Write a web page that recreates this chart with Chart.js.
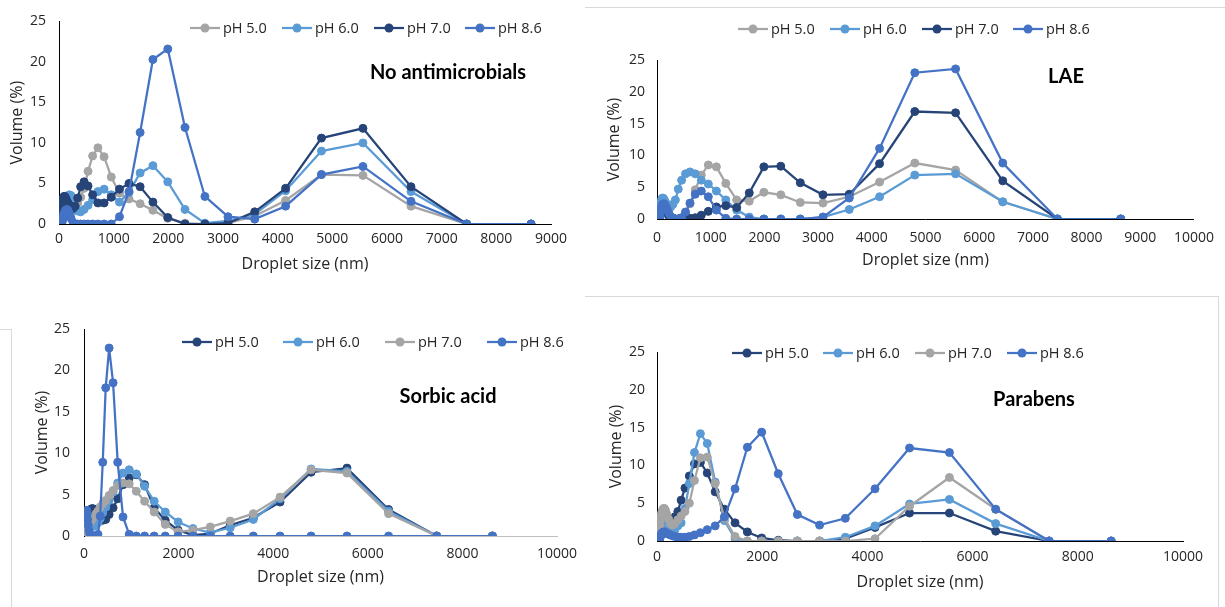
<!DOCTYPE html>
<html><head><meta charset="utf-8">
<script src="https://cdn.jsdelivr.net/npm/chart.js@4.4.1/dist/chart.umd.min.js"></script>
<style>
html,body{margin:0;padding:0;background:#fff;}
body{width:1225px;height:607px;position:relative;overflow:hidden;}
canvas{position:absolute;}
.fr{position:absolute;background:#d9d9d9;}
</style></head><body>
<div class="fr" style="left:585px;top:7px;width:640px;height:1px"></div>
<div class="fr" style="left:585px;top:296px;width:634px;height:1px"></div>
<div class="fr" style="left:1218px;top:296px;width:1px;height:311px"></div>
<div class="fr" style="left:0px;top:329px;width:12px;height:1px"></div>
<div class="fr" style="left:11px;top:329px;width:1px;height:278px"></div>
<canvas id="c1" width="590" height="295" style="left:0;top:0"></canvas>
<canvas id="c2" width="635" height="295" style="left:590px;top:0"></canvas>
<canvas id="c3" width="590" height="312" style="left:0;top:295px"></canvas>
<canvas id="c4" width="635" height="312" style="left:590px;top:295px"></canvas>
<script>
// Droplet size classes (nm)
const sizes = [43.82, 50.75, 58.77, 68.06, 78.82, 91.28, 105.7, 122.4, 141.8, 164.2, 190.1, 220.2, 255.0, 295.3, 342.0, 396.1, 458.7, 531.2, 615.1, 712.4, 825.0, 955.4, 1106, 1281, 1484, 1718, 1990, 2305, 2669, 3091, 3580, 4145, 4801, 5560, 6439, 7456, 8635];
const seriesLabels = ['pH 5.0', 'pH 6.0', 'pH 7.0', 'pH 8.6'];
const panelTitles = ['No antimicrobials', 'LAE', 'Sorbic acid', 'Parabens'];
const yAxisTitle = 'Volume (%)';
const xAxisTitle = 'Droplet size (nm)';

// No antimicrobials
const noAM_pH50 = [0,0.3,0.6,0.9,1.2,1.4,1.5,1.6,1.6,1.5,1.4,1.4,1.6,2.0,2.6,3.3,4.4,6.5,8.4,9.4,8.3,5.8,3.8,3.1,2.5,1.7,0.7,0.1,0,0.1,1.0,2.9,6.1,6.0,2.2,0,0];
const noAM_pH60 = [0,0.2,0.5,0.9,1.3,1.8,2.3,2.7,3.1,3.4,3.6,3.5,3.0,2.2,1.6,1.5,1.8,2.3,3.0,4.0,4.3,3.6,2.7,3.9,6.3,7.2,5.2,1.8,0.1,0.4,1.2,4.1,9.0,10.0,4.0,0,0];
const noAM_pH70 = [0,0.8,1.8,2.6,3.2,3.4,3.4,3.2,2.9,2.6,2.3,2.0,1.9,2.2,3.2,4.6,5.2,4.7,3.6,2.6,2.6,3.3,4.3,5.0,4.6,2.7,0.8,0,0,0.1,1.5,4.4,10.6,11.8,4.6,0,0];
const noAM_pH86 = [0,0.1,0.3,0.6,0.9,1.2,1.5,1.7,1.8,1.7,1.3,0.7,0.2,0,0,0,0,0,0,0,0,0,0.9,4.0,11.3,20.3,21.6,11.9,3.4,0.9,0.6,2.2,6.1,7.1,2.8,0,0];

// LAE
const lae_pH50 = [0,0.2,0.5,0.8,1.2,1.5,1.8,2.0,2.0,1.8,1.4,0.9,0.4,0.1,0,0,0.2,0.9,2.4,4.6,6.9,8.5,8.2,5.6,3.0,2.8,4.2,3.8,2.6,2.5,3.5,5.8,8.8,7.7,2.7,0,0];
const lae_pH60 = [0.2,0.8,1.5,2.2,2.8,3.2,3.3,3.2,2.9,2.5,2.1,1.9,1.9,2.3,3.0,4.7,6.1,7.1,7.4,7.1,6.1,5.5,4.4,3.0,1.4,0.3,0,0,0,0.3,1.5,3.5,6.9,7.1,2.7,0,0];
const lae_pH70 = [0,0.2,0.5,0.9,1.3,1.6,1.8,1.9,1.8,1.5,1.0,0.5,0.2,0,0,0,0,0,0.1,0.2,0.6,1.2,1.9,2.1,1.8,4.1,8.2,8.3,5.7,3.8,3.9,8.7,16.9,16.7,6.0,0,0];
const lae_pH86 = [0,0.3,0.8,1.3,1.8,2.1,2.3,2.4,2.3,2.0,1.5,0.9,0.4,0.1,0,0,0.2,1.1,2.5,3.9,4.4,3.5,1.4,0.1,0,0,0,0,0,0.3,3.3,11.1,23.0,23.6,8.8,0,0];

// Sorbic acid
const sorbic_pH50 = [0.5,1.0,1.5,2.0,2.4,2.7,2.9,3.1,3.2,3.3,3.3,3.2,2.9,2.5,2.1,1.9,2.0,2.6,3.4,4.5,6.2,7.0,7.4,6.2,3.4,1.9,0.7,0.1,0.3,1.3,2.2,4.1,7.7,8.2,3.2,0,0];
const sorbic_pH60 = [0.3,0.7,1.0,1.3,1.5,1.6,1.6,1.5,1.4,1.3,1.2,1.2,1.3,1.6,2.1,2.8,3.5,4.3,5.3,6.4,7.6,8.0,7.5,6.0,4.2,2.9,1.7,0.9,0.4,1.0,2.0,4.5,8.1,7.8,3.0,0,0];
const sorbic_pH70 = [0,0.2,0.4,0.7,0.9,1.2,1.4,1.6,1.8,2.0,2.2,2.4,2.7,3.0,3.5,3.9,4.3,4.9,5.5,6.1,6.4,6.3,5.4,4.2,2.9,1.4,0.5,0.7,1.1,1.8,2.7,4.7,8.0,7.6,2.7,0,0];
const sorbic_pH86 = [2.5,3.0,3.1,2.7,2.0,1.3,0.7,0.3,0.1,0,0,0,0,0.2,2.4,8.9,17.9,22.7,18.5,8.9,2.3,0.2,0,0,0,0,0,0,0,0,0,0,0,0,0,0,0];

// Parabens
const parabens_pH50 = [0.1,0.3,0.5,0.8,1.0,1.2,1.3,1.4,1.5,1.6,1.8,2.0,2.3,2.7,3.2,3.9,5.4,7.0,8.6,10.2,10.4,9.0,6.5,4.2,2.4,1.2,0.4,0.1,0,0,0.3,1.8,3.7,3.7,1.3,0,0];
const parabens_pH60 = [0.2,0.6,1.0,1.4,1.8,2.1,2.4,2.5,2.5,2.3,2.0,1.7,1.4,1.3,1.5,2.0,2.4,4.3,7.6,11.7,14.2,12.9,7.8,2.7,0.3,0,0,0,0,0,0.5,2.0,4.9,5.5,2.3,0,0];
const parabens_pH70 = [0.5,1.2,2.0,2.8,3.4,3.8,4.1,4.3,4.3,4.0,3.5,2.9,2.3,2.1,2.3,2.8,3.3,3.9,5.0,8.0,11.0,11.1,7.6,3.0,0.6,0,0,0,0,0,0,0.3,4.6,8.4,4.2,0,0];
const parabens_pH86 = [0.1,0.3,0.5,0.7,0.9,1.0,1.1,1.2,1.2,1.1,1.0,0.9,0.8,0.7,0.6,0.5,0.5,0.5,0.6,0.8,1.1,1.5,2.0,3.2,6.9,12.4,14.4,8.9,3.5,2.1,3.0,6.9,12.3,11.7,4.2,0,0];

const GRAY = '#A5A5A5', LIGHT = '#5B9BD5', NAVY = '#264478', BLUE = '#4472C4';
const TXT = '#262626';

Chart.defaults.font.family = '"Open Sans", "Noto Sans", sans-serif';
Chart.defaults.color = TXT;

const overlay = {
  id: 'overlay',
  afterDraw(chart, args, o) {
    const ctx = chart.ctx;
    ctx.save();
    const ds = chart.data.datasets;
    o.legendX.forEach((x0, i) => {
      const y = o.legendY, c = ds[i].borderColor;
      ctx.strokeStyle = c; ctx.lineWidth = 2.25;
      ctx.beginPath(); ctx.moveTo(x0, y); ctx.lineTo(x0 + 30, y); ctx.stroke();
      ctx.fillStyle = c; ctx.beginPath(); ctx.arc(x0 + 15, y, 4.5, 0, Math.PI * 2); ctx.fill();
      ctx.fillStyle = TXT; ctx.font = '14.5px "Open Sans"';
      ctx.textBaseline = 'middle'; ctx.textAlign = 'left';
      ctx.fillText(ds[i].label, x0 + 33, y + 1);
    });
    ctx.font = 'bold 20px Lato'; ctx.fillStyle = '#000';
    ctx.textAlign = 'center'; ctx.textBaseline = 'middle';
    ctx.fillText(o.title, o.titleX, o.titleY);
    ctx.restore();
  }
};

function makeChart(id, values, colors, p) {
  const datasets = values.map((vals, i) => ({
    label: seriesLabels[i],
    data: sizes.map((s, k) => ({x: s, y: vals[k]})),
    borderColor: colors[i], backgroundColor: colors[i],
    pointBackgroundColor: colors[i], pointBorderColor: colors[i],
    borderWidth: 2.25, pointRadius: 4, pointBorderWidth: 1,
    showLine: true, tension: 0, order: values.length - i
  }));
  new Chart(document.getElementById(id), {
    type: 'scatter',
    data: {datasets},
    plugins: [overlay],
    options: {
      responsive: false, animation: false, events: [],
      layout: {padding: p.pad},
      plugins: {legend: {display: false}, tooltip: {enabled: false}, overlay: p.overlay},
      scales: {
        x: {
          type: 'linear', min: 0, max: p.xMax,
          grid: {display: false, drawTicks: false},
          border: {display: true, color: p.xAxisColor, width: 1},
          ticks: {stepSize: p.xStep, padding: p.xTickPad, font: {size: 14}, color: TXT, maxRotation: 0,
                  callback: v => String(v)},
          title: {display: true, text: xAxisTitle, font: {size: 16}, color: TXT, padding: {top: 0, bottom: p.xTitlePad}},
          afterFit: s => { s.height = 55; }
        },
        y: {
          min: 0, max: 25,
          grid: {display: false, drawTicks: false},
          border: {display: true, color: '#000', width: 1},
          ticks: {stepSize: 5, padding: p.yTickPad, font: {size: 14}, color: TXT, callback: v => String(v)},
          title: {display: true, text: yAxisTitle, font: {size: 16}, color: TXT, padding: {top: p.yTitlePad, bottom: 0}},
          afterFit: s => { s.width = p.yWidth; }
        }
      }
    }
  });
}

makeChart('c1', [noAM_pH50, noAM_pH60, noAM_pH70, noAM_pH86], [GRAY, LIGHT, NAVY, BLUE], {
  pad: {left: 0, top: 17, right: 39, bottom: 16}, xMax: 9000, xStep: 1000, xAxisColor: '#000',
  xTickPad: 7, xTitlePad: 5, yTickPad: 13, yTitlePad: 8, yWidth: 59,
  overlay: {legendY: 28, legendX: [190, 282, 374, 465], title: panelTitles[0], titleX: 448, titleY: 73}
});
makeChart('c2', [lae_pH50, lae_pH60, lae_pH70, lae_pH86], [GRAY, LIGHT, NAVY, BLUE], {
  pad: {left: 0, top: 60, right: 25, bottom: 21}, xMax: 10000, xStep: 1000, xAxisColor: '#000',
  xTickPad: 11, xTitlePad: 4, yTickPad: 12, yTitlePad: 15, yWidth: 67,
  overlay: {legendY: 29, legendX: [148, 240, 332, 423], title: panelTitles[1], titleX: 476, titleY: 77}
});
makeChart('c3', [sorbic_pH50, sorbic_pH60, sorbic_pH70, sorbic_pH86], [NAVY, LIGHT, GRAY, BLUE], {
  pad: {left: 0, top: 34, right: 33, bottom: 16}, xMax: 10000, xStep: 2000, xAxisColor: '#bfbfbf',
  xTickPad: 10, xTitlePad: 4, yTickPad: 14, yTitlePad: 33, yWidth: 84,
  overlay: {legendY: 47, legendX: [182, 283, 385, 487], title: panelTitles[2], titleX: 448, titleY: 102}
});
makeChart('c4', [parabens_pH50, parabens_pH60, parabens_pH70, parabens_pH86], [NAVY, LIGHT, GRAY, BLUE], {
  pad: {left: 0, top: 57, right: 42, bottom: 11}, xMax: 10000, xStep: 2000, xAxisColor: '#000',
  xTickPad: 8, xTitlePad: 4, yTickPad: 12, yTitlePad: 17, yWidth: 67,
  overlay: {legendY: 58, legendX: [142, 233, 325, 417], title: panelTitles[3], titleX: 444, titleY: 105}
});
</script>
</body></html>
